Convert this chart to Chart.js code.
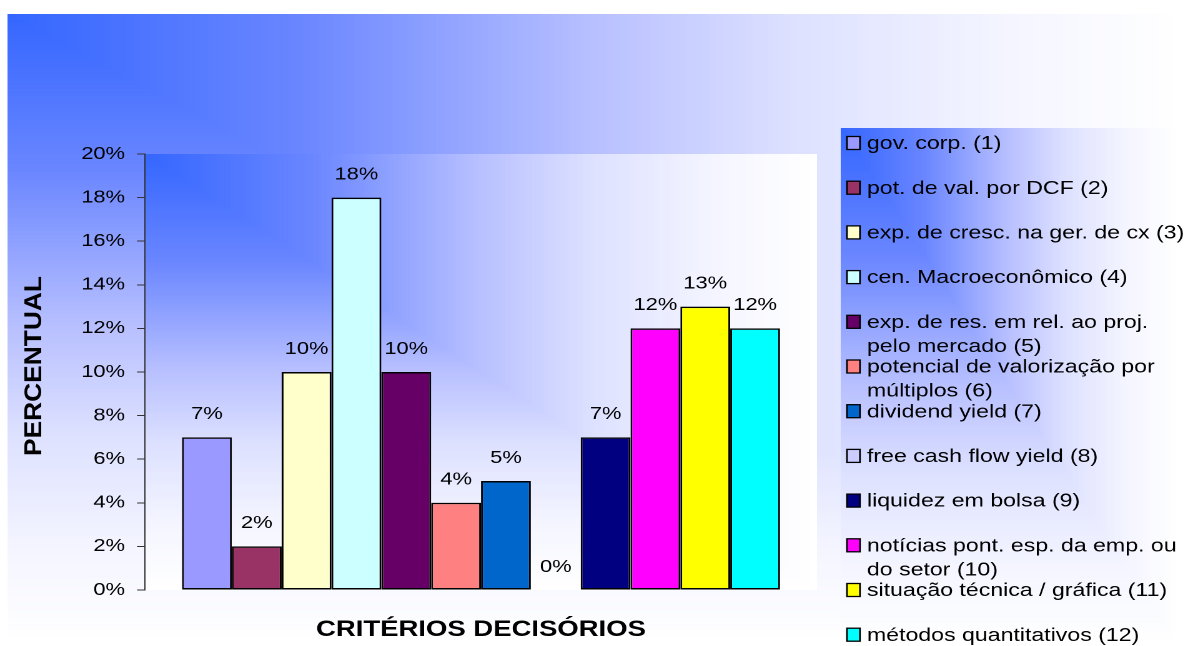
<!DOCTYPE html>
<html><head><meta charset="utf-8">
<script src="https://cdn.jsdelivr.net/npm/chart.js@4.4.0/dist/chart.umd.min.js"></script>
<style>
html,body{margin:0;padding:0;background:#fff;overflow:hidden;width:1188px;height:646px;}
#wrap{position:absolute;left:0;top:0;width:951px;height:646px;transform:scaleX(1.2492);transform-origin:0 0;}
canvas{display:block;}
</style></head><body>
<div id="wrap"><canvas id="c" width="951" height="646"></canvas></div>
<script>
const categories = [''];
const seriesNames = [
  'gov. corp. (1)',
  'pot. de val. por DCF (2)',
  'exp. de cresc. na ger. de cx (3)',
  'cen. Macroeconômico (4)',
  'exp. de res. em rel. ao proj.\npelo mercado (5)',
  'potencial de valorização por\nmúltiplos (6)',
  'dividend yield (7)',
  'free cash flow yield (8)',
  'liquidez em bolsa (9)',
  'notícias pont. esp. da emp. ou\ndo setor (10)',
  'situação técnica / gráfica (11)',
  'métodos quantitativos (12)'
];
const seriesValues = [7, 2, 10, 18, 10, 4, 5, 0, 7, 12, 13, 12];
const seriesColors = ['#9999FF','#993366','#FFFFCC','#CCFFFF','#660066','#FF8080','#0066CC','#CCCCFF','#000080','#FF00FF','#FFFF00','#00FFFF'];
const yTickLabels = ['0%','2%','4%','6%','8%','10%','12%','14%','16%','18%','20%'];
const yTitle = 'PERCENTUAL';
const xTitle = 'CRITÉRIOS DECISÓRIOS';

const FONT = '"Liberation Sans", Arial, sans-serif';

const gradStops = [[0,[51,102,255]],[0.25,[106,134,255]],[0.5,[184,192,255]],[0.67,[221,225,255]],[0.85,[244,245,255]],[1,[255,255,255]]];
function gradColor(t){
  for (let i=1;i<gradStops.length;i++){
    if (t<=gradStops[i][0]){
      const [t0,c0]=gradStops[i-1],[t1,c1]=gradStops[i];
      const f=(t-t0)/(t1-t0);
      return 'rgb('+c0.map((v,k)=>Math.round(v+(c1[k]-v)*f)).join(',')+')';
    }
  }
  return 'rgb(255,255,255)';
}
function cornerFill(ctx,x,y,w,h){
  const N=160;
  for(let i=N;i>=1;i--){
    const t=i/N;
    ctx.fillStyle=gradColor(t);
    ctx.fillRect(x,y,w*t,h*t);
  }
}

const bgPlugin = {
  id:'bg',
  beforeDraw(chart){
    const ctx=chart.ctx, a=chart.chartArea;
    ctx.save();
    ctx.fillStyle='#fff';
    ctx.fillRect(0,0,chart.width,chart.height);
    cornerFill(ctx,6.4,14,chart.width-6.4,631);
    cornerFill(ctx,a.left,a.top,a.right-a.left,a.bottom-a.top);
    cornerFill(ctx,673.2,128,270,518);
    ctx.restore();
  }
};

const labelPlugin = {
  id:'vlabels',
  afterDatasetsDraw(chart){
    const ctx=chart.ctx;
    ctx.save();
    ctx.font='17.5px '+FONT;
    ctx.fillStyle='#000';
    ctx.textAlign='center';
    ctx.textBaseline='middle';
    chart.data.datasets.forEach((ds,i)=>{
      const el=chart.getDatasetMeta(i).data[0];
      ctx.fillText(ds.data[0]+'%', el.x, el.y-23);
    });
    ctx.restore();
  }
};

const legendPlugin = {
  id:'customLegend',
  afterDraw(chart){
    const ctx=chart.ctx;
    ctx.save();
    ctx.font='18.5px '+FONT;
    ctx.textBaseline='middle';
    ctx.textAlign='left';
    chart.data.datasets.forEach((ds,i)=>{
      const top=143+i*44.7;
      ctx.fillStyle=ds.backgroundColor;
      ctx.fillRect(678,top-6.5,10.4,13);
      ctx.strokeStyle='#000';
      ctx.lineWidth=1.3;
      ctx.strokeRect(678,top-6.5,10.4,13);
      ctx.fillStyle='#000';
      ds.label.split('\n').forEach((line,j)=>{
        ctx.fillText(line,694,top+1+j*24);
      });
    });
    // y title
    ctx.font='bold 19px '+FONT;
    const w=ctx.measureText(yTitle).width;
    ctx.translate(28,366);
    ctx.rotate(-Math.PI/2);
    ctx.scale(180/w,1);
    ctx.textAlign='center';
    ctx.fillText(yTitle,0,0);
    ctx.restore();
  }
};

new Chart(document.getElementById('c'),{
  type:'bar',
  data:{
    labels:categories,
    datasets:seriesNames.map((n,i)=>({
      label:n,
      data:[seriesValues[i]],
      backgroundColor:seriesColors[i],
      borderColor:'#000',
      borderWidth:1.5,
      borderSkipped:false,
      categoryPercentage:0.89,
      barPercentage:1
    }))
  },
  options:{
    responsive:false,
    animation:false,
    devicePixelRatio:2,
    layout:{padding:{left:0,top:154,right:297,bottom:0}},
    plugins:{legend:{display:false},tooltip:{enabled:false},title:{display:false}},
    scales:{
      x:{
        ticks:{display:false},
        grid:{display:false},
        border:{display:false},
        title:{display:true,text:xTitle,color:'#000',font:{family:FONT,size:22,weight:'bold'},padding:{top:0,bottom:3}},
        afterFit(s){s.height=56;}
      },
      y:{
        min:0,max:20,
        ticks:{stepSize:2,color:'#000',padding:9.6,font:{family:FONT,size:17.5},
          callback:(v,i)=>yTickLabels[i]},
        grid:{drawOnChartArea:false,drawTicks:true,tickLength:6.4,color:'#333',lineWidth:1},
        border:{display:true,color:'#333',width:1},
        afterFit(s){s.width=116.1;}
      }
    }
  },
  plugins:[bgPlugin,labelPlugin,legendPlugin]
});
</script>
</body></html>
